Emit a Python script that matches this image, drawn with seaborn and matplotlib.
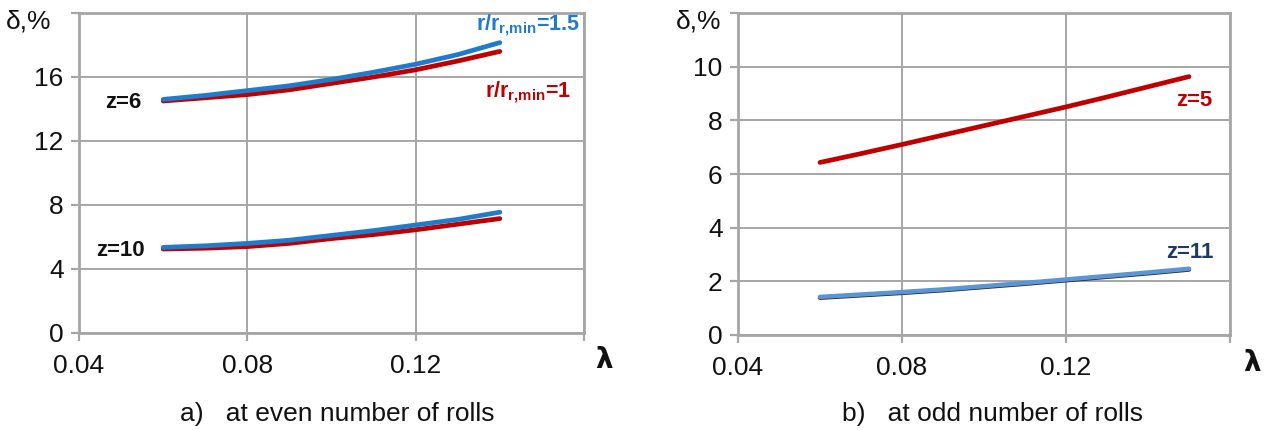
import numpy as np
import pandas as pd
import matplotlib
matplotlib.use("Agg")
import matplotlib.pyplot as plt
import seaborn as sns

# lambda values of the computed points
lam_even = [0.06, 0.07, 0.08, 0.09, 0.10, 0.11, 0.12, 0.13, 0.14]
lam_odd = [0.06, 0.07, 0.08, 0.09, 0.10, 0.11, 0.12, 0.13, 0.14, 0.15]

# even number of rolls: delta, %
z6_r15 = [14.6, 14.85, 15.15, 15.45, 15.85, 16.3, 16.8, 17.4, 18.15]
z6_r1 = [14.5, 14.7, 14.9, 15.2, 15.6, 16.0, 16.45, 17.0, 17.6]
z10_r15 = [5.35, 5.45, 5.6, 5.8, 6.1, 6.4, 6.75, 7.1, 7.55]
z10_r1 = [5.25, 5.3, 5.4, 5.6, 5.9, 6.15, 6.45, 6.8, 7.15]

# odd number of rolls: delta, %
z5 = [6.43, 6.76, 7.1, 7.45, 7.8, 8.15, 8.5, 8.87, 9.25, 9.63]
z11_r15 = [1.42, 1.51, 1.6, 1.7, 1.82, 1.94, 2.07, 2.2, 2.33, 2.47]
z11_r1 = [1.39, 1.48, 1.57, 1.67, 1.79, 1.91, 2.04, 2.17, 2.30, 2.44]

BLUE = "#1f7ccc"
RED = "#c00000"
LIGHT_BLUE = "#5b95d8"
NAVY = "#1f3864"
GRID = "#a6a6a6"
INK = "#111111"

sns.set_theme(style="white")
plt.rcParams["font.family"] = ["Liberation Sans", "DejaVu Sans"]
plt.rcParams["mathtext.fontset"] = "custom"
plt.rcParams["mathtext.rm"] = "Liberation Sans:bold"
plt.rcParams["mathtext.bf"] = "Liberation Sans:bold"

even = pd.concat([
    pd.DataFrame({"lam": lam_even, "delta": z6_r15, "series": "z6_r15"}),
    pd.DataFrame({"lam": lam_even, "delta": z6_r1, "series": "z6_r1"}),
    pd.DataFrame({"lam": lam_even, "delta": z10_r15, "series": "z10_r15"}),
    pd.DataFrame({"lam": lam_even, "delta": z10_r1, "series": "z10_r1"}),
])
odd = pd.concat([
    pd.DataFrame({"lam": lam_odd, "delta": z5, "series": "z5"}),
    pd.DataFrame({"lam": lam_odd, "delta": z11_r1, "series": "z11_r1"}),
    pd.DataFrame({"lam": lam_odd, "delta": z11_r15, "series": "z11_r15"}),
])

W, H = 1269, 430
fig = plt.figure(figsize=(W / 100, H / 100), dpi=100)
ax1 = fig.add_axes([79 / W, 1 - 333 / H, 505 / W, 320 / H])
ax2 = fig.add_axes([738 / W, 1 - 335 / H, 492 / W, 322 / H])


def style_axes(ax, ymax, yticks):
    ax.set_xlim(0.04, 0.16)
    ax.set_ylim(0, ymax)
    ax.set_xticks([0.04, 0.08, 0.12, 0.16])
    ax.set_xticklabels(["0.04", "0.08", "0.12", ""])
    ax.set_yticks(yticks + [ymax])
    ax.set_yticklabels([str(v) for v in yticks] + [""])
    ax.grid(True, color=GRID, linewidth=1.4)
    ax.set_axisbelow(True)
    for sp in ax.spines.values():
        sp.set_color(GRID)
        sp.set_linewidth(2.0)
    ax.tick_params(axis="both", which="both", direction="out", length=6,
                   width=1.6, color=GRID, labelsize=19, labelcolor=INK,
                   bottom=True, left=True, pad=5)
    ax.tick_params(axis="x", pad=9)
    ax.set_xlabel("")
    ax.set_ylabel("")


def place(x, y, s, **kw):
    fig.text(x / W, 1 - y / H, s, **kw)


# panel a: even number of rolls
pal_even = {"z6_r15": BLUE, "z6_r1": RED, "z10_r15": BLUE, "z10_r1": RED}
for key in ["z6_r1", "z6_r15", "z10_r1", "z10_r15"]:
    sns.lineplot(data=even[even["series"] == key], x="lam", y="delta",
                 color=pal_even[key], linewidth=3.4, ax=ax1, legend=False)
style_axes(ax1, 20, [0, 4, 8, 12, 16])

place(123, 102, "z=6", fontsize=16, fontweight="bold",
      ha="center", va="center", color=INK)
place(120, 250, "z=10", fontsize=16, fontweight="bold",
      ha="center", va="center", color=INK)
place(528, 25, r"r/r$_{\mathregular{r{,}min}}$=1.5", fontsize=15.5,
      fontweight="bold", ha="center", va="center", color=BLUE)
place(528, 92, r"r/r$_{\mathregular{r{,}min}}$=1", fontsize=15.5,
      fontweight="bold", ha="center", va="center", color=RED)

# panel b: odd number of rolls
sns.lineplot(data=odd[odd["series"] == "z5"], x="lam", y="delta",
             color=RED, linewidth=3.4, ax=ax2, legend=False)
sns.lineplot(data=odd[odd["series"] == "z11_r1"], x="lam", y="delta",
             color="#2a2a2a", linewidth=3.2, ax=ax2, legend=False)
sns.lineplot(data=odd[odd["series"] == "z11_r15"], x="lam", y="delta",
             color=LIGHT_BLUE, linewidth=3.2, ax=ax2, legend=False)
style_axes(ax2, 12, [0, 2, 4, 6, 8, 10])

place(1194, 100, "z=5", fontsize=16, fontweight="bold",
      ha="center", va="center", color=RED)
place(1190, 253, "z=11", fontsize=16, fontweight="bold",
      ha="center", va="center", color=NAVY)

# axis titles
place(29, 22, "δ,%", fontsize=19, ha="center", va="center", color=INK)
place(699, 22, "δ,%", fontsize=19, ha="center", va="center", color=INK)
place(604, 360, "λ", fontsize=20, fontweight="bold", ha="center",
      va="center", color=INK, family=["DejaVu Sans"])
place(1252, 363, "λ", fontsize=20, fontweight="bold", ha="center",
      va="center", color=INK, family=["DejaVu Sans"])

# panel captions
place(337, 414, "a)   at even number of rolls", fontsize=19, ha="center",
      va="center", color=INK)
place(993, 414, "b)   at odd number of rolls", fontsize=19, ha="center",
      va="center", color=INK)

fig.savefig("out.png", dpi=100, facecolor="white")
